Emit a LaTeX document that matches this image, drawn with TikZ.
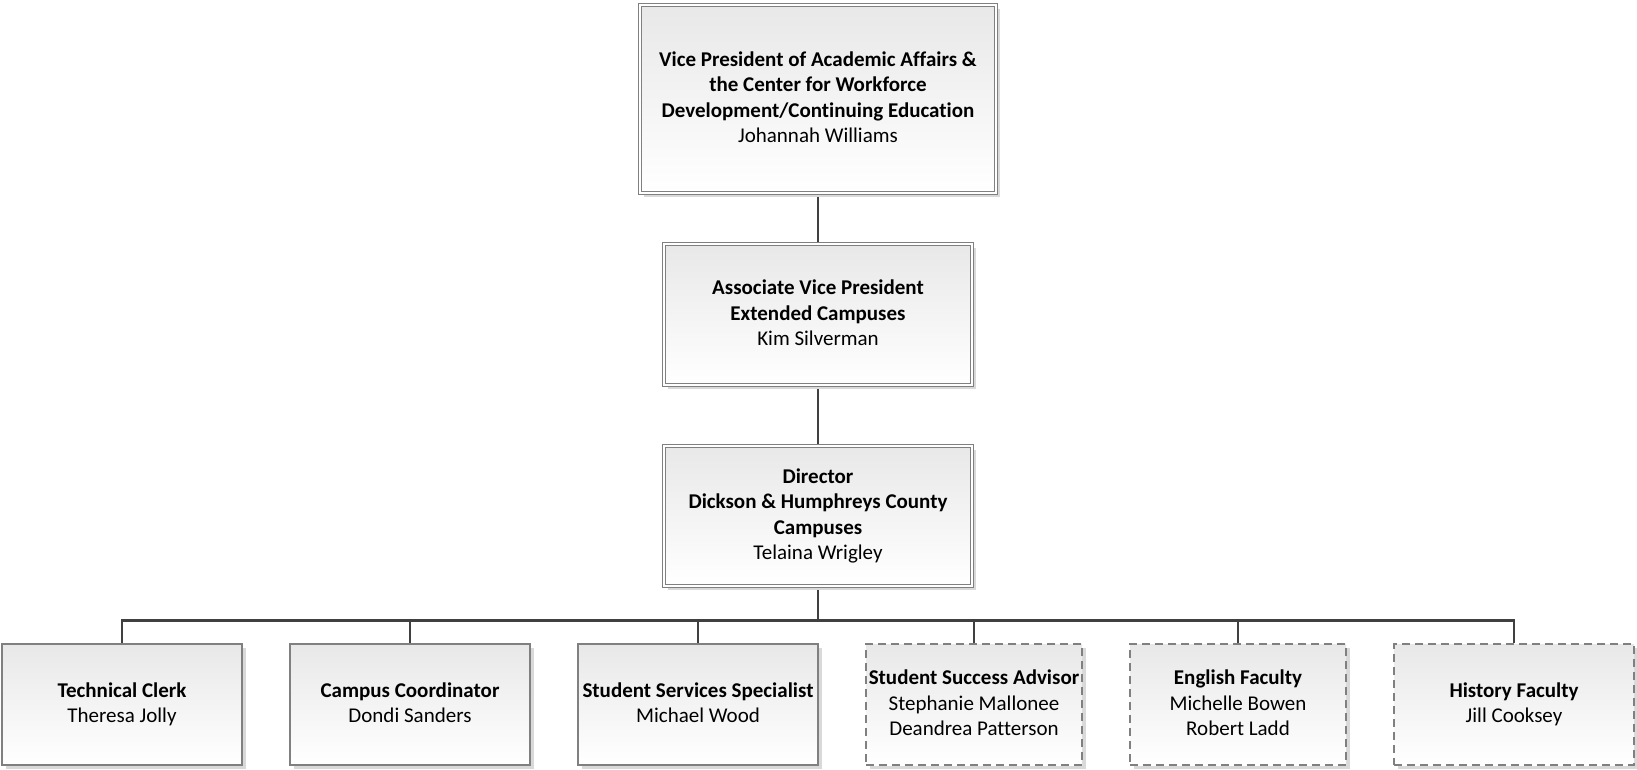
\documentclass[tikz,border=0pt]{standalone}
\usepackage{fontspec}
\setmainfont[Ligatures={NoCommon}]{Carlito}
\usetikzlibrary{shadows,backgrounds}
\definecolor{boxgray}{HTML}{808080}
\definecolor{linegray}{HTML}{404040}
\tikzset{
  box/.style={rectangle, draw=boxgray, line width=1.3pt, top color=black!9, bottom color=white,
    inner sep=0pt, align=center, font=\fontsize{21}{25.6}\selectfont,
    execute at begin node={\vphantom{Jg}\rule{0pt}{\dimexpr\fontcharht\font`\J+3pt\relax}},
    execute at end node=\vphantom{Jg},
    drop shadow={shadow xshift=4pt, shadow yshift=-4pt, fill=black!15, opacity=1}},
  dblbox/.style={box, double=white, double distance=2.6pt, line width=1pt},
  dshbox/.style={box, dash pattern=on 8pt off 5pt},
  conn/.style={draw=linegray, line width=2.6pt}
}
\begin{document}
\begin{tikzpicture}[x=1pt, y=-1pt]
\useasboundingbox (0,0) rectangle (1637,769);
\node[dblbox, minimum width=356pt, minimum height=188pt] (vp) at (818,99)
  {\textbf{Vice President of Academic Affairs \&}\\\textbf{the Center for Workforce}\\\textbf{Development/Continuing Education}\\Johannah Williams};
\node[dblbox, minimum width=308pt, minimum height=141pt] (avp) at (818,314.5)
  {\textbf{Associate Vice President}\\\textbf{Extended Campuses}\\Kim Silverman};
\node[dblbox, minimum width=308pt, minimum height=140pt] (dir) at (818,516)
  {\textbf{Director}\\\textbf{Dickson \& Humphreys County}\\\textbf{Campuses}\\Telaina Wrigley};
\node[box, minimum width=240pt, minimum height=121pt] (tc) at (122,704.5)
  {\textbf{Technical Clerk}\\Theresa Jolly};
\node[box, minimum width=240pt, minimum height=121pt] (cc) at (410,704.5)
  {\textbf{Campus Coordinator}\\Dondi Sanders};
\node[box, minimum width=240pt, minimum height=121pt] (sss) at (698,704.5)
  {\textbf{Student Services Specialist}\\Michael Wood};
\node[dshbox, minimum width=216pt, minimum height=121pt] (ssa) at (974,704.5)
  {\textbf{Student Success Advisor}\\Stephanie Mallonee\\Deandrea Patterson};
\node[dshbox, minimum width=216pt, minimum height=121pt] (ef) at (1238,704.5)
  {\textbf{English Faculty}\\Michelle Bowen\\Robert Ladd};
\node[dshbox, minimum width=240pt, minimum height=121pt] (hf) at (1514,704.5)
  {\textbf{History Faculty}\\Jill Cooksey};
\coordinate (bus) at (818,620.5);
\begin{scope}[on background layer]
\draw[conn] (vp.south) -- (avp.north);
\draw[conn] (avp.south) -- (dir.north);
\draw[conn] (dir.south) -- (bus);
\foreach \c in {tc,cc,sss,ssa,ef,hf} {\draw[conn] (bus) -| (\c.north);}
\end{scope}
\end{tikzpicture}
\end{document}
